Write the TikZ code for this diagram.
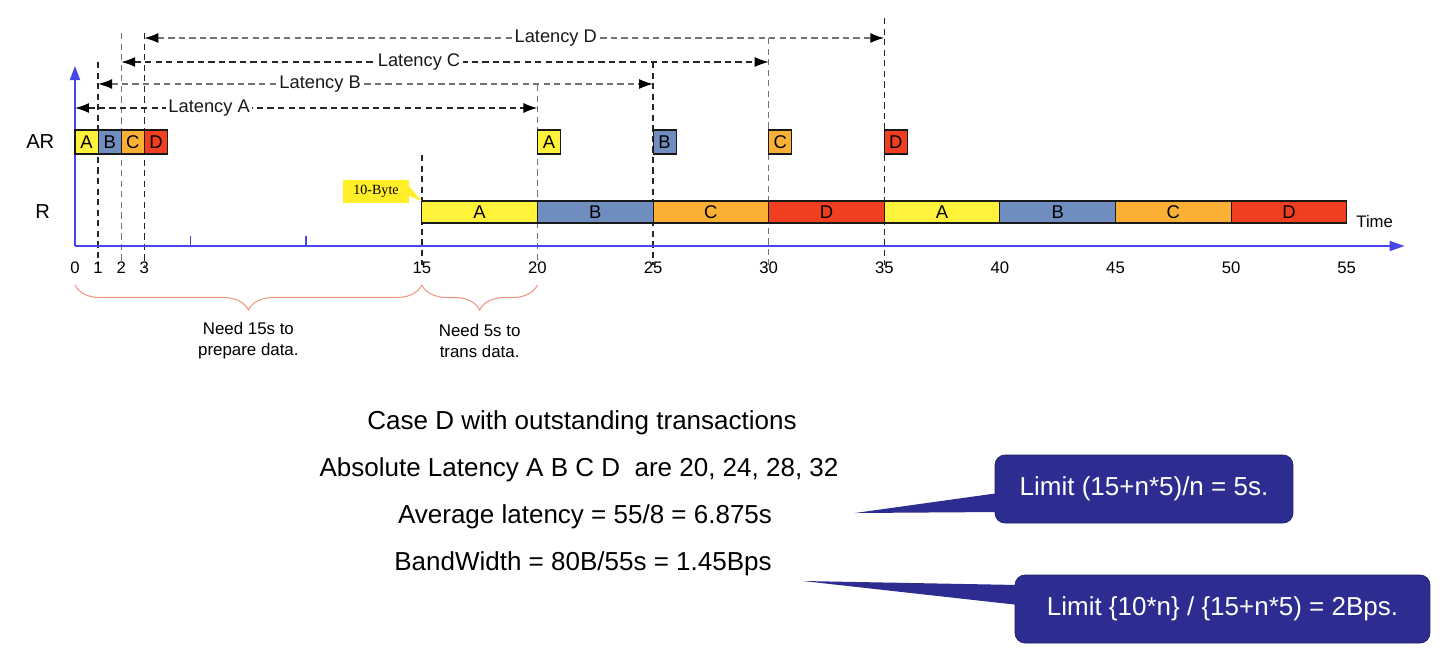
\documentclass[tikz,border=0pt]{standalone}
\usepackage{fontspec}
\setmainfont{Liberation Sans}
\newfontfamily\timesfont{Liberation Serif}
\usetikzlibrary{arrows.meta,decorations.pathreplacing,calc,positioning}

\definecolor{barA}{RGB}{255,242,58}
\definecolor{barB}{RGB}{111,141,190}
\definecolor{barC}{RGB}{249,176,53}
\definecolor{barD}{RGB}{240,62,32}
\definecolor{axisblue}{RGB}{70,70,235}
\definecolor{callblue}{RGB}{44,44,145}
\definecolor{bracered}{RGB}{240,150,135}
\definecolor{notebox}{RGB}{255,238,40}

\begin{document}
\begin{tikzpicture}[x=0.02cm, y=-0.02cm,
    slot/.style={draw=black!90, line width=0.6pt, inner sep=0pt, font=\fontsize{10.5}{12}\selectfont},
    guide/.style={dash pattern=on 3.6pt off 2.4pt, line width=0.8pt, black!85},
    guidelt/.style={guide, black!55},
    latarr/.style={{Latex[length=2.8mm,width=2mm,color=black]}-{Latex[length=2.8mm,width=2mm,color=black]}},
    latlabel/.style={fill=white, inner sep=1.5pt, font=\fontsize{10.4}{12}\selectfont, text=black!90},
    axis/.style={axisblue, line width=1pt},
    ticklabel/.style={font=\fontsize{9.5}{11}\selectfont},
    brace/.style={decorate, decoration={brace, mirror, amplitude=0.5cm}, bracered, line width=0.6pt},
    note/.style={align=center, font=\fontsize{9.6}{12}\selectfont},
    casetext/.style={font=\fontsize{14.8}{17}\selectfont},
    callbox/.style={fill=callblue, draw=callblue!70!black, rounded corners=0.2cm, text=white,
        font=\fontsize{14.8}{17}\selectfont, minimum height=1.36cm}]
    \useasboundingbox (0,0) rectangle (1452,653);

    % time line, x in seconds
    \begin{scope}[x=0.46254cm, xshift=1.5cm]
        % guides
        \foreach \t/\top in {1/62, 3/33, 15/155, 25/62, 35/18}
            \draw[guide] (\t,\top) -- (\t,265);
        \foreach \t/\top in {2/33, 20/85, 30/38}
            \draw[guidelt] (\t,\top) -- (\t,265);

        % axes
        \coordinate (O) at (0,246);
        \coordinate (ytop) at (0,66);
        \coordinate (xend) at (57.5,246);
        \draw[axis, -{Triangle[length=2.8mm,width=2mm]}] (O) -- (ytop);
        \draw[axis, -{Triangle[length=3mm,width=2mm]}] (O) -- (xend);
        \foreach \t in {5,10}
            \draw[axis] (\t,246) -- (\t,236);
        \foreach \t in {0,1,2,3,15,20,25,30,35,40,45,50,55}
            \node[ticklabel] at (\t,268) {\t};
        \node[ticklabel] (time) at (55,222) [right=2pt] {Time};

        % AR row
        \node[font=\fontsize{11.5}{13}\selectfont] (ar) at (-1.5,142) {AR};
        \foreach \t/\c/\l in {0/barA/A, 1/barB/B, 2/barC/C, 3/barD/D, 20/barA/A, 25/barB/B, 30/barC/C, 35/barD/D}
            \node[slot, fill=\c, minimum width=0.46254cm, minimum height=0.48cm] (ar\t) at (\t+0.5,142) {\l};

        % R row
        \node[font=\fontsize{11.5}{13}\selectfont] (r) at (-1.4,212) {R};
        \foreach \t/\c/\l in {15/barA/A, 20/barB/B, 25/barC/C, 30/barD/D, 35/barA/A, 40/barB/B, 45/barC/C, 50/barD/D}
            \node[slot, fill=\c, minimum width=2.3127cm, minimum height=0.44cm] (r\t) at (\t+2.5,212) {\l};

        % latencies
        \coordinate (latA0) at (0,108); \coordinate (latA1) at (20,108);
        \coordinate (latB0) at (1,84);  \coordinate (latB1) at (25,84);
        \coordinate (latC0) at (2,62);  \coordinate (latC1) at (30,62);
        \coordinate (latD0) at (3,38);  \coordinate (latD1) at (35,38);
        \draw[guide, latarr] (latA0) -- node[latlabel, pos=0.29] {Latency A} (latA1);
        \draw[guidelt, latarr] (latB0) -- node[latlabel, pos=0.40] {Latency B} (latB1);
        \draw[guide, latarr] (latC0) -- node[latlabel, pos=0.46] {Latency C} (latC1);
        \draw[guidelt, latarr] (latD0) -- node[latlabel, pos=0.556] {Latency D} (latD1);

        % braces
        \draw[brace] (0,285) -- (15,285);
        \draw[brace] (15,285) -- (20,285);
        \node[note] (prep) at (7.5,341) {Need 15s to\\prepare data.};
        \node[note] (trans) at (17.5,341) {Need 5s to\\trans data.};

        % 10-Byte note
        \coordinate (bytetip) at (15,201);
    \end{scope}

    \node[fill=notebox, minimum width=1.32cm, minimum height=0.46cm, inner sep=0pt,
        font=\timesfont\fontsize{8}{10}\selectfont] (byte) at (376,191.5) {10-Byte};
    \fill[notebox] ($(byte.east)+(-1,-6)$) -- (bytetip) -- ($(byte.east)+(-1,4)$) -- cycle;

    % case text
    \node[casetext] (case) at (582,423) {Case D with outstanding transactions};
    \node[casetext] (abs) at (579,470) {Absolute Latency A B C D\ \ are 20, 24, 28, 32};
    \node[casetext] (avg) at (585,517) {Average latency = 55/8 = 6.875s};
    \node[casetext] (bw) at (583,564) {BandWidth = 80B/55s = 1.45Bps};

    % callouts
    \node[callbox, minimum width=5.96cm] (lim1) at (1144,489) {Limit (15+n*5)/n = 5s.};
    \coordinate (tip1) at (855,513);
    \fill[callblue] ($(lim1.west)+(4,4)$) -- (tip1) -- ($(lim1.west)+(4,23)$) -- cycle;
    \node[callbox, minimum width=8.3cm] (lim2) at (1222.5,609) {Limit \{10*n\} / \{15+n*5) = 2Bps.};
    \coordinate (tip2) at (803,581);
    \fill[callblue] ($(lim2.west)+(4,-24)$) -- (tip2) -- ($(lim2.west)+(4,-4)$) -- cycle;
\end{tikzpicture}
\end{document}
